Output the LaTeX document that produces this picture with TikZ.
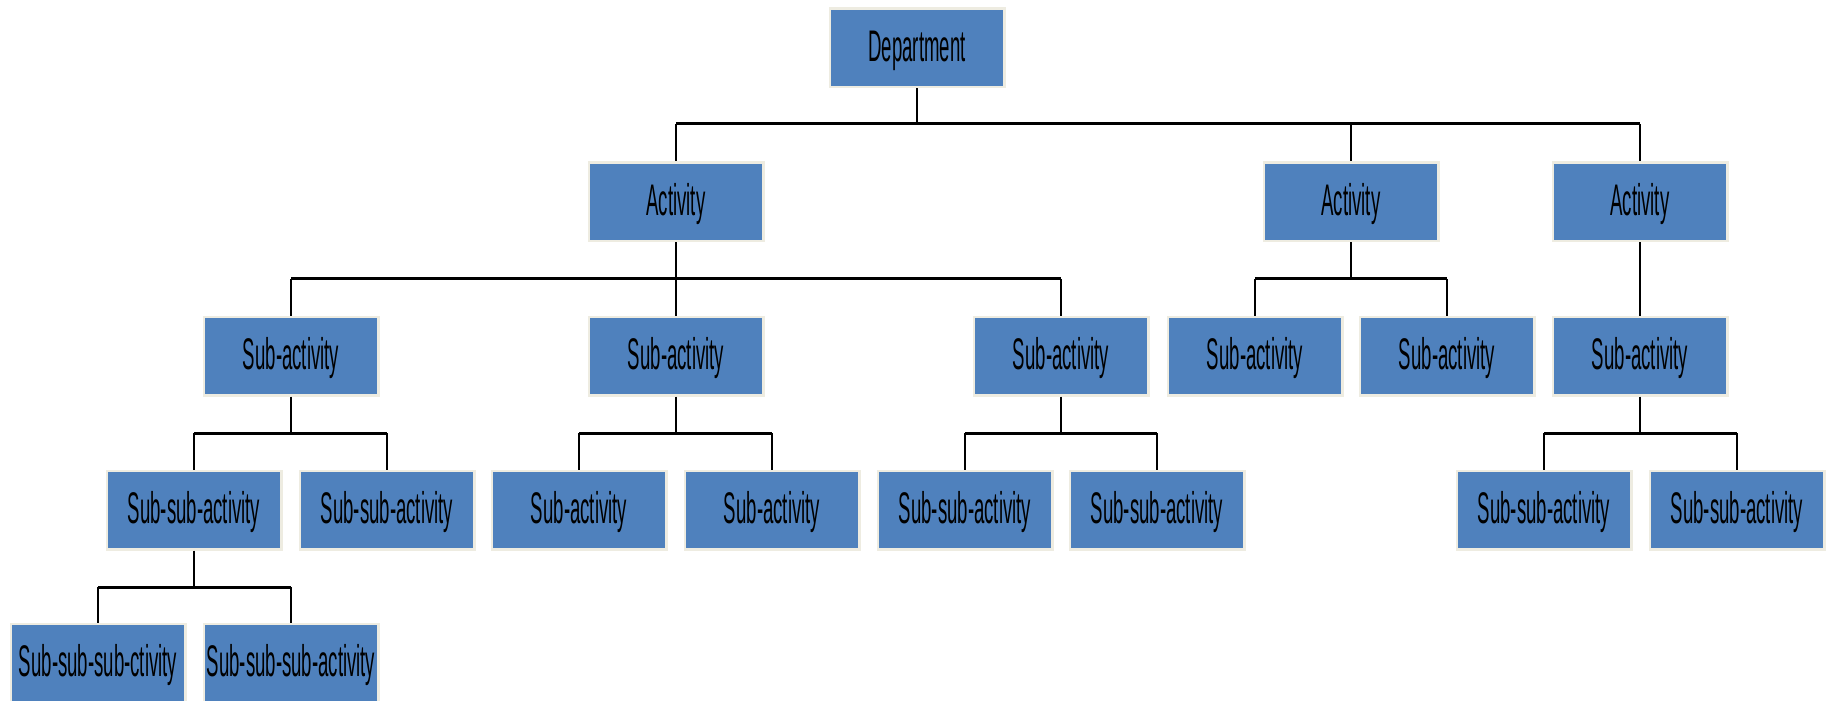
\documentclass[tikz,border=0pt]{standalone}
\usepackage{fontspec}
\usepackage{tikz}
\usetikzlibrary{calc}
\newfontfamily\narrowfont[FakeStretch=0.42]{Liberation Sans}
\definecolor{cBox}{HTML}{4F81BD}
\definecolor{cRim}{HTML}{EEECE1}
\tikzset{
  orgbox/.style={rectangle,draw=cRim,line width=0.25mm,fill=cBox,
              minimum width=17.45mm,minimum height=7.85mm,inner sep=0pt,
              text height=3.25mm,text depth=0.6mm,
              font=\narrowfont\fontsize{12.6}{14}\selectfont},
  stem/.style={line width=0.15mm,black},
  bar/.style={line width=0.3mm,black},
}

\begin{document}
\begin{tikzpicture}[x=0.1mm,y=-0.1mm]
  \useasboundingbox (0,0) rectangle (1831,701);
  % boxes, row by row
  \node[orgbox](dep) at (917,48){Department};
  \node[orgbox](act1) at (676,202){Activity};
  \node[orgbox](act2) at (1351,202){Activity};
  \node[orgbox](act3) at (1640,202){Activity};
  \node[orgbox](sub1) at (291,356){Sub-activity};
  \node[orgbox](sub2) at (676,356){Sub-activity};
  \node[orgbox](sub3) at (1061,356){Sub-activity};
  \node[orgbox](sub4) at (1255,356){Sub-activity};
  \node[orgbox](sub5) at (1447,356){Sub-activity};
  \node[orgbox](sub6) at (1640,356){Sub-activity};
  \node[orgbox](ssub1) at (194,510){Sub-sub-activity};
  \node[orgbox](ssub2) at (387,510){Sub-sub-activity};
  \node[orgbox](ssub3) at (579,510){Sub-activity};
  \node[orgbox](ssub4) at (772,510){Sub-activity};
  \node[orgbox](ssub5) at (965,510){Sub-sub-activity};
  \node[orgbox](ssub6) at (1157,510){Sub-sub-activity};
  \node[orgbox](ssub7) at (1544,510){Sub-sub-activity};
  \node[orgbox](ssub8) at (1737,510){Sub-sub-activity};
  \node[orgbox](sss1) at (98,663){Sub-sub-sub-ctivity};
  \node[orgbox](sss2) at (291,663){Sub-sub-sub-activity};
  % bar heights
  \coordinate (b1) at (0,124); \coordinate (b2) at (0,279);
  \coordinate (b3) at (0,433); \coordinate (b4) at (0,587);
  % parent / first child / last child / all children / bar
  \foreach \p/\f/\l/\kids/\b in {dep/act1/act3/{act1,act2,act3}/b1,
      act1/sub1/sub3/{sub1,sub2,sub3}/b2, act2/sub4/sub5/{sub4,sub5}/b2,
      sub1/ssub1/ssub2/{ssub1,ssub2}/b3, sub2/ssub3/ssub4/{ssub3,ssub4}/b3,
      sub3/ssub5/ssub6/{ssub5,ssub6}/b3, sub6/ssub7/ssub8/{ssub7,ssub8}/b3,
      ssub1/sss1/sss2/{sss1,sss2}/b4}{
    \draw[stem] (\p) -- (\p |- \b);
    \draw[bar] (\f |- \b) -- (\l |- \b);
    \foreach \k in \kids \draw[stem] (\k |- \b) -- (\k);
  }
  \draw[stem] (act3) -- (sub6);
\end{tikzpicture}
\end{document}
